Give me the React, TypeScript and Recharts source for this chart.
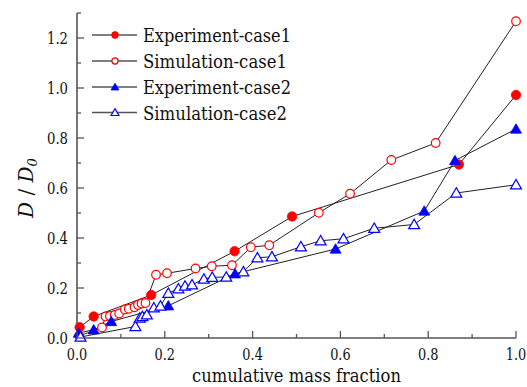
import React from 'react';
import { LineChart, Line, XAxis, YAxis, Customized } from 'recharts';

const expCase1: [number, number][] = [
  [0.006, 0.043], [0.038, 0.086], [0.169, 0.172], [0.359, 0.347], [0.49, 0.486], [0.87, 0.694], [1.0, 0.972],
];
const simCase1: [number, number][] = [
  [0.005, 0.008], [0.057, 0.042], [0.065, 0.086], [0.075, 0.088], [0.086, 0.092], [0.096, 0.098],
  [0.109, 0.114], [0.118, 0.117], [0.131, 0.123], [0.139, 0.132], [0.147, 0.138], [0.156, 0.14],
  [0.18, 0.253], [0.205, 0.259], [0.27, 0.278], [0.307, 0.287], [0.353, 0.291], [0.396, 0.363],
  [0.438, 0.371], [0.551, 0.501], [0.622, 0.577], [0.716, 0.712], [0.817, 0.78], [1.0, 1.267],
];
const expCase2: [number, number][] = [
  [0.004, 0.02], [0.038, 0.033], [0.078, 0.066], [0.208, 0.129], [0.36, 0.257], [0.589, 0.356],
  [0.791, 0.508], [0.861, 0.71], [1.0, 0.836],
];
const simCase2: [number, number][] = [
  [0.008, 0.004], [0.133, 0.046], [0.143, 0.08], [0.149, 0.086], [0.159, 0.093], [0.175, 0.121],
  [0.19, 0.128], [0.208, 0.179], [0.231, 0.197], [0.246, 0.208], [0.262, 0.213], [0.289, 0.236],
  [0.308, 0.243], [0.34, 0.244], [0.379, 0.265], [0.411, 0.321], [0.444, 0.325], [0.51, 0.365],
  [0.555, 0.389], [0.607, 0.397], [0.677, 0.439], [0.768, 0.454], [0.864, 0.58], [1.0, 0.613],
];

const seriesNames = ['Experiment-case1', 'Simulation-case1', 'Experiment-case2', 'Simulation-case2'];
const legendWidths = [148, 144, 148, 144];
const xTicks = [0, 0.1, 0.2, 0.3, 0.4, 0.5, 0.6, 0.7, 0.8, 0.9, 1.0];
const yTicks = [0, 0.1, 0.2, 0.3, 0.4, 0.5, 0.6, 0.7, 0.8, 0.9, 1.0, 1.1, 1.2, 1.3];
const xTitle = 'cumulative mass fraction';

const toRows = (arr: [number, number][]) => arr.map(([x, y]) => ({ x, y }));

const FONT = "'DejaVu Serif', serif";
const AXIS = '#555';
const LINE = '#222';
const RED = '#ff0000';
const BLUE = '#0000ff';
const TXT = '#111';

type Kind = 'fcircle' | 'ocircle' | 'ftri' | 'otri';
const kinds: Kind[] = ['fcircle', 'ocircle', 'ftri', 'otri'];

const Marker = ({ kind, cx, cy, s }: { kind: Kind; cx: number; cy: number; s: number }) => {
  if (kind === 'fcircle') return <circle cx={cx} cy={cy} r={4.7 * s} fill={RED} stroke={RED} strokeWidth={0.8} />;
  if (kind === 'ocircle') return <circle cx={cx} cy={cy} r={4.3 * s} fill="#fff" stroke={RED} strokeWidth={1.2} />;
  const h = 5.2 * s;
  const pts = `${cx},${cy - h} ${cx - h * 1.05},${cy + h * 0.8} ${cx + h * 1.05},${cy + h * 0.8}`;
  if (kind === 'ftri') return <polygon points={pts} fill={BLUE} stroke={BLUE} strokeWidth={0.8} />;
  return <polygon points={pts} fill="#fff" stroke={BLUE} strokeWidth={1.2} />;
};

const makeDot = (kind: Kind) => (props: any) => {
  const { cx, cy, index } = props;
  if (cx == null || cy == null) return <g key={`d-${kind}-${index}`} />;
  return <Marker key={`d-${kind}-${index}`} kind={kind} cx={cx} cy={cy} s={1} />;
};

const isMajor = (v: number) => Math.round(v * 10) % 2 === 0;

const XTick = (props: any) => {
  const { x, y, payload } = props;
  const v = payload.value as number;
  const major = isMajor(v);
  return (
    <g>
      <line x1={x} y1={y} x2={x} y2={y - (major ? 7 : 4)} stroke={AXIS} strokeWidth={1.3} />
      {major && (
        <text x={x} y={y + 22} textAnchor="middle" fontSize={16} fontFamily={FONT} fill={TXT}
          textLength={20.5} lengthAdjust="spacingAndGlyphs">
          {v.toFixed(1)}
        </text>
      )}
    </g>
  );
};

const YTick = (props: any) => {
  const { x, y, payload } = props;
  const v = payload.value as number;
  const major = isMajor(v);
  return (
    <g>
      <line x1={x} y1={y} x2={x + (major ? 7 : 4)} y2={y} stroke={AXIS} strokeWidth={1.3} />
      {major && (
        <text x={x - 30} y={y + 6} textAnchor="start" fontSize={16} fontFamily={FONT} fill={TXT}
          textLength={21} lengthAdjust="spacingAndGlyphs">
          {v.toFixed(1)}
        </text>
      )}
    </g>
  );
};

const Decorations = () => {
  const rowY = [35, 61, 87, 112.5];
  return (
    <g>
      {seriesNames.map((name, i) => (
        <g key={name}>
          <line x1={92} y1={rowY[i]} x2={137} y2={rowY[i]} stroke="#555" strokeWidth={1.4} />
          <Marker kind={kinds[i]} cx={115} cy={rowY[i]} s={0.72} />
          <text x={143} y={rowY[i] + 7} fontSize={18} fontFamily={FONT} fill={TXT}
            textLength={legendWidths[i]} lengthAdjust="spacingAndGlyphs">
            {name}
          </text>
        </g>
      ))}
      <text x={192} y={382} fontSize={19} fontFamily={FONT} fill={TXT}
        textLength={209} lengthAdjust="spacingAndGlyphs">
        {xTitle}
      </text>
      <g transform="translate(33, 188) rotate(-90)">
        <text x={0} y={0} textAnchor="middle" fontSize={20} fontFamily={FONT} fill={TXT}>
          <tspan fontStyle="italic">D</tspan>
          <tspan> / </tspan>
          <tspan fontStyle="italic">D</tspan>
          <tspan fontStyle="italic" fontSize={13} dy={4}>0</tspan>
        </text>
      </g>
    </g>
  );
};

export default function App() {
  const series = [expCase1, simCase1, expCase2, simCase2];
  return (
    <div style={{ position: 'absolute', left: 0, top: 0, background: '#fff', fontFamily: FONT }}>
      <LineChart width={527} height={387} margin={{ top: 13, right: 11, bottom: 0, left: 0 }}>
        <XAxis
          type="number"
          dataKey="x"
          domain={[0, 1]}
          ticks={xTicks}
          interval={0}
          height={49}
          tickSize={0}
          tickMargin={0}
          tick={<XTick />}
          axisLine={{ stroke: AXIS, strokeWidth: 1.6 }}
          tickLine={false}
        />
        <YAxis
          type="number"
          dataKey="y"
          domain={[0, 1.3]}
          ticks={yTicks}
          interval={0}
          width={77}
          tickSize={0}
          tickMargin={0}
          tick={<YTick />}
          axisLine={{ stroke: AXIS, strokeWidth: 1.6 }}
          tickLine={false}
        />
        {series.map((s, i) => (
          <Line
            key={seriesNames[i]}
            name={seriesNames[i]}
            data={toRows(s)}
            dataKey="y"
            type="linear"
            stroke={LINE}
            strokeWidth={1}
            dot={makeDot(kinds[i])}
            activeDot={false}
            isAnimationActive={false}
          />
        ))}
        <Customized component={Decorations} />
      </LineChart>
    </div>
  );
}
